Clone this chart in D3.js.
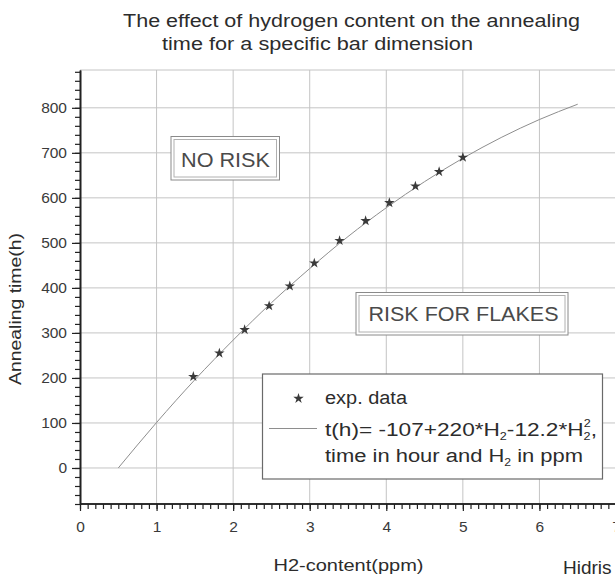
<!DOCTYPE html>
<html>
<head>
<meta charset="utf-8">
<script src="https://cdn.jsdelivr.net/npm/d3@7/dist/d3.min.js"></script>
<style>
  html, body { margin: 0; padding: 0; background: #fff; }
  svg { display: block; font-family: "Liberation Sans", Arial, sans-serif; }
</style>
</head>
<body>
<svg id="chart" width="615" height="579"></svg>
<script>
// Measured annealing times for hydrogen contents
const h2Content = [1.48, 1.82, 2.15, 2.47, 2.74, 3.06, 3.39, 3.73, 4.04, 4.38, 4.69, 5.0];
const annealingTime = [203, 255, 307, 360, 404, 455, 505, 549, 589, 626, 658, 690];

// Fitted curve samples
const fitH2 = [0.5, 1.0, 1.5, 2.0, 2.5, 3.0, 3.5, 4.0, 4.5, 5.0, 5.5, 6.0, 6.5];
const fitTime = [0, 101, 196, 284, 367, 443, 514, 578, 636, 688, 734, 774, 808];

// Axis ticks
const xTickValues = [0, 1, 2, 3, 4, 5, 6, 7];
const yTickValues = [0, 100, 200, 300, 400, 500, 600, 700, 800];
const xMinorTicks = d3.range(0, 7.75, 0.1).map(v => +v.toFixed(1));
const yMinorTicks = d3.range(-80, 884, 20);

const svg = d3.select("#chart");

const x = d3.scaleLinear().domain([0, 7]).range([80, 616]);
const y = d3.scaleLinear().domain([-80, 884]).range([504, 70]);

const xMax = x.invert(615);

// Grid
const grid = svg.append("g").attr("stroke", "#c4c4c4").attr("stroke-width", 1);
grid.selectAll("line.v").data(xTickValues.slice(1)).join("line")
  .attr("x1", d => x(d)).attr("x2", d => x(d))
  .attr("y1", y.range()[1]).attr("y2", y.range()[0]);
grid.selectAll("line.h").data(yTickValues).join("line")
  .attr("x1", x(0)).attr("x2", 615)
  .attr("y1", d => y(d)).attr("y2", d => y(d));
grid.append("line")
  .attr("x1", x(0)).attr("x2", 615)
  .attr("y1", y.range()[1]).attr("y2", y.range()[1]);

// Fitted curve
const line = d3.line().x((d, i) => x(fitH2[i])).y(d => y(d)).curve(d3.curveMonotoneX);
svg.append("path")
  .attr("d", line(fitTime))
  .attr("fill", "none")
  .attr("stroke", "#8e8e8e")
  .attr("stroke-width", 1);

// Experimental points
const star = d3.symbol().type(d3.symbolStar).size(34);
svg.append("g").selectAll("path").data(annealingTime).join("path")
  .attr("d", star)
  .attr("transform", (d, i) => `translate(${x(h2Content[i])},${y(d)})`)
  .attr("fill", "#3a3a3a");

// Axes
const axisColor = "#222";
const yMinor = svg.append("g").attr("transform", `translate(${x(0)},0)`)
  .call(d3.axisLeft(y).tickValues(yMinorTicks).tickSize(5).tickSizeOuter(0).tickFormat(""));
const yMajor = svg.append("g").attr("transform", `translate(${x(0)},0)`)
  .call(d3.axisLeft(y).tickValues(yTickValues).tickSize(8).tickSizeOuter(0).tickPadding(5).tickFormat(d3.format("d")));
const xMinor = svg.append("g").attr("transform", `translate(0,${y(-80)})`)
  .call(d3.axisBottom(x).tickValues(xMinorTicks.filter(v => v <= xMax)).tickSize(5).tickSizeOuter(0).tickFormat(""));
const xMajor = svg.append("g").attr("transform", `translate(0,${y(-80)})`)
  .call(d3.axisBottom(x).tickValues(xTickValues).tickSize(7).tickSizeOuter(0).tickPadding(10).tickFormat(d3.format("d")));

[yMinor, yMajor, xMinor, xMajor].forEach(g => {
  g.select(".domain").attr("stroke", axisColor).attr("stroke-width", 1.6);
  g.selectAll(".tick line").attr("stroke", axisColor).attr("stroke-width", 1.2);
});
xMinor.select(".domain").attr("d", `M${x(0)},0H615`);
xMajor.select(".domain").attr("d", `M${x(0)},0H615`);
[yMajor, xMajor].forEach(g => {
  g.selectAll(".tick text")
    .attr("font-family", "Liberation Sans, Arial, sans-serif")
    .attr("font-size", 15.5)
    .attr("fill", "#3a3a3a");
});

// Titles
const textColor = "#2c2c2c";
svg.append("text").attr("x", 123).attr("y", 27)
  .attr("font-size", 17.5).attr("fill", textColor)
  .attr("textLength", 457).attr("lengthAdjust", "spacingAndGlyphs")
  .text("The effect of hydrogen content on the annealing");
svg.append("text").attr("x", 162).attr("y", 50)
  .attr("font-size", 17.5).attr("fill", textColor)
  .attr("textLength", 311).attr("lengthAdjust", "spacingAndGlyphs")
  .text("time for a specific bar dimension");

svg.append("text")
  .attr("transform", "translate(20.5,309) rotate(-90)")
  .attr("text-anchor", "middle")
  .attr("font-size", 16).attr("fill", textColor)
  .attr("textLength", 152).attr("lengthAdjust", "spacingAndGlyphs")
  .text("Annealing time(h)");

svg.append("text").attr("x", 348.5).attr("y", 571)
  .attr("text-anchor", "middle")
  .attr("font-size", 16).attr("fill", textColor)
  .attr("textLength", 150).attr("lengthAdjust", "spacingAndGlyphs")
  .text("H2-content(ppm)");

svg.append("text").attr("x", 563).attr("y", 574)
  .attr("font-size", 19).attr("fill", "#2a2a2a")
  .text("Hidris");

// Region labels in framed boxes
function framedLabel(x0, y0, x1, y1, label, tx, ty, tlen) {
  const g = svg.append("g");
  g.append("rect").attr("x", x0).attr("y", y0).attr("width", x1 - x0).attr("height", y1 - y0)
    .attr("fill", "#fff").attr("stroke", "#8a8a8a").attr("stroke-width", 1);
  g.append("rect").attr("x", x0 + 3).attr("y", y0 + 3).attr("width", x1 - x0 - 6).attr("height", y1 - y0 - 6)
    .attr("fill", "none").attr("stroke", "#b0b0b0").attr("stroke-width", 1);
  g.append("text").attr("x", tx).attr("y", ty)
    .attr("font-size", 20).attr("fill", "#4a4a4a")
    .attr("textLength", tlen).attr("lengthAdjust", "spacingAndGlyphs")
    .text(label);
}
framedLabel(171, 136.5, 279.5, 180, "NO RISK", 181, 166.5, 89);
framedLabel(356, 292.5, 568, 335, "RISK FOR FLAKES", 368.5, 320.5, 190);

// Legend
const lg = svg.append("g");
lg.append("rect").attr("x", 262.5).attr("y", 374).attr("width", 340).attr("height", 105)
  .attr("fill", "#fff").attr("stroke", "#6a6a6a").attr("stroke-width", 1.2);
lg.append("path").attr("d", d3.symbol().type(d3.symbolStar).size(34))
  .attr("transform", "translate(298.5,398.5)").attr("fill", "#3a3a3a");
lg.append("line").attr("x1", 269).attr("x2", 317).attr("y1", 428.5).attr("y2", 428.5)
  .attr("stroke", "#8e8e8e").attr("stroke-width", 1);

lg.append("text").attr("x", 325).attr("y", 404)
  .attr("font-size", 18).attr("fill", textColor)
  .attr("textLength", 82).attr("lengthAdjust", "spacingAndGlyphs")
  .text("exp. data");

const l2 = lg.append("text").attr("x", 325).attr("y", 436)
  .attr("font-size", 18).attr("fill", textColor);
l2.append("tspan").text("t(h)= -107+220*H");
l2.append("tspan").attr("font-size", 10).attr("dy", 4).text("2");
l2.append("tspan").attr("dy", -4).text("-12.2*H");
l2.append("tspan").attr("font-size", 10).attr("dy", 4).text("2");
l2.append("tspan").attr("font-size", 10).attr("dx", -5.5).attr("dy", -13).text("2");
l2.append("tspan").attr("dy", 9).text(",");
l2.attr("textLength", 272).attr("lengthAdjust", "spacingAndGlyphs");

const l3 = lg.append("text").attr("x", 325).attr("y", 462)
  .attr("font-size", 18).attr("fill", textColor);
l3.append("tspan").text("time in hour and H");
l3.append("tspan").attr("font-size", 10).attr("dy", 4).text("2");
l3.append("tspan").attr("dy", -4).text(" in ppm");
l3.attr("textLength", 258).attr("lengthAdjust", "spacingAndGlyphs");
</script>
</body>
</html>
